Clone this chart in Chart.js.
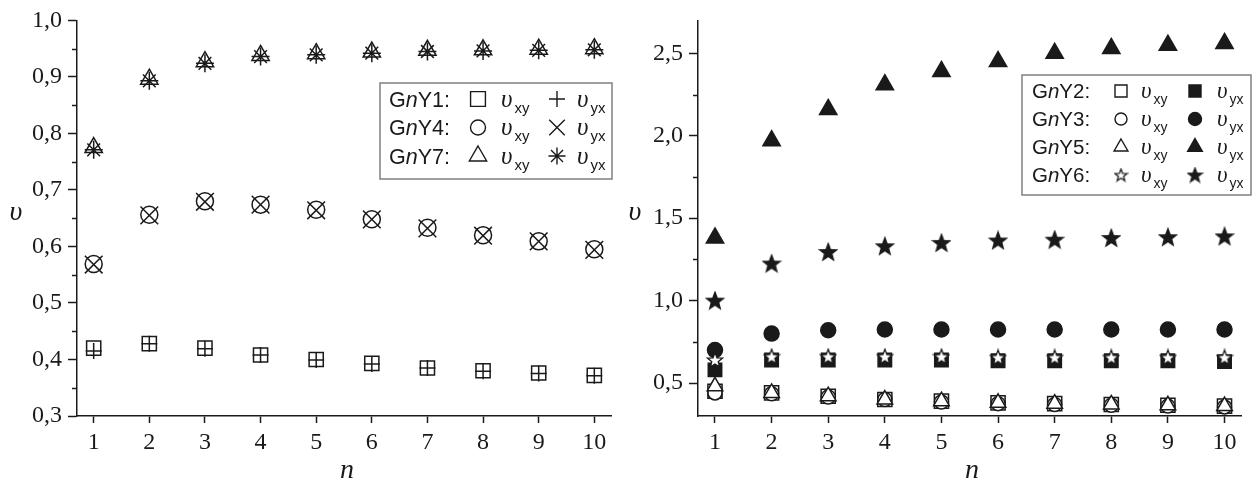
<!DOCTYPE html>
<html>
<head>
<meta charset="utf-8">
<script src="https://cdn.jsdelivr.net/npm/chart.js@4.4.0/dist/chart.umd.min.js"></script>
<style>
  html, body { margin: 0; padding: 0; background: #fff; }
  #wrap { position: relative; width: 1253px; height: 491px; overflow: hidden; }
  canvas { position: absolute; top: 0; }
  #chartLeft { left: 0; }
  #chartRight { left: 625px; }
</style>
</head>
<body>
<div id="wrap">
  <canvas id="chartLeft" width="625" height="491"></canvas>
  <canvas id="chartRight" width="628" height="491"></canvas>
</div>
<script>
// ---- datos ----
const N = [1, 2, 3, 4, 5, 6, 7, 8, 9, 10];

// panel izquierdo
const gny1Xy = [0.420, 0.428, 0.420, 0.408, 0.400, 0.393, 0.385, 0.380, 0.376, 0.372];
const gny1Yx = [0.415, 0.428, 0.419, 0.408, 0.399, 0.392, 0.385, 0.379, 0.375, 0.371];
const gny4Xy = [0.569, 0.656, 0.680, 0.674, 0.665, 0.648, 0.633, 0.620, 0.609, 0.595];
const gny4Yx = [0.568, 0.655, 0.679, 0.674, 0.664, 0.648, 0.632, 0.619, 0.609, 0.594];
const gny7Xy = [0.775, 0.896, 0.927, 0.938, 0.941, 0.944, 0.947, 0.948, 0.949, 0.950];
const gny7Yx = [0.771, 0.893, 0.924, 0.936, 0.939, 0.942, 0.945, 0.946, 0.947, 0.948];

// panel derecho
const gny2Xy = [0.45, 0.44, 0.42, 0.40, 0.39, 0.38, 0.375, 0.37, 0.365, 0.36];
const gny2Yx = [0.58, 0.64, 0.64, 0.64, 0.64, 0.635, 0.635, 0.635, 0.635, 0.63];
const gny3Xy = [0.44, 0.435, 0.415, 0.40, 0.385, 0.375, 0.37, 0.365, 0.36, 0.355];
const gny3Yx = [0.70, 0.80, 0.82, 0.825, 0.825, 0.825, 0.825, 0.825, 0.825, 0.825];
const gny5Xy = [0.48, 0.44, 0.42, 0.40, 0.39, 0.38, 0.375, 0.37, 0.365, 0.36];
const gny5Yx = [1.38, 1.97, 2.16, 2.31, 2.39, 2.45, 2.50, 2.53, 2.55, 2.56];
const gny6Xy = [0.64, 0.66, 0.66, 0.66, 0.66, 0.655, 0.655, 0.655, 0.655, 0.655];
const gny6Yx = [1.00, 1.225, 1.295, 1.33, 1.35, 1.365, 1.37, 1.38, 1.385, 1.39];

// ejes
const leftYTicks = [0.3, 0.4, 0.5, 0.6, 0.7, 0.8, 0.9, 1.0];
const leftYMinor = [0.35, 0.45, 0.55, 0.65, 0.75, 0.85, 0.95];
const rightYTicks = [0.5, 1.0, 1.5, 2.0, 2.5];
const rightYMinor = [0.75, 1.25, 1.75, 2.25];

const INK = '#1a1a1a';
const SERIF = '"Liberation Serif", "Times New Roman", serif';
const SANS = '"Liberation Sans", Arial, sans-serif';
const NONE = 'rgba(0,0,0,0)';

// estrella de cinco puntas como imagen
function starImage(size, fill) {
  const c = document.createElement('canvas');
  c.width = c.height = size;
  const g = c.getContext('2d');
  const cx = size / 2, cy = size / 2 + 0.6, R = size / 2 - 1, r = R * 0.42;
  g.beginPath();
  for (let k = 0; k < 10; k++) {
    const a = -Math.PI / 2 + k * Math.PI / 5;
    const rad = k % 2 ? r : R;
    g.lineTo(cx + rad * Math.cos(a), cy + rad * Math.sin(a));
  }
  g.closePath();
  g.fillStyle = fill; g.fill();
  g.lineWidth = 1.3; g.strokeStyle = INK; g.stroke();
  return c;
}

function series(label, ys, style, radius, fill, order) {
  return {
    label,
    data: N.map((n, i) => ({ x: n, y: ys[i] })),
    pointStyle: style,
    pointRadius: radius,
    pointHoverRadius: radius,
    pointBackgroundColor: fill,
    pointBorderColor: INK,
    pointBorderWidth: 1.5,
    showLine: false,
    clip: false,
    order
  };
}

function axes(yMin, yMax, yTicks, yWidth) {
  const tickFont = { family: SERIF, size: 24 };
  return {
    x: {
      type: 'linear', min: 0.7, max: 10.3,
      afterBuildTicks: s => { s.ticks = N.map(v => ({ value: v })); },
      afterFit: s => { s.height = 75; },
      ticks: { color: INK, font: tickFont, padding: 5, maxRotation: 0, autoSkip: false, callback: v => String(v) },
      grid: { drawOnChartArea: false, tickLength: 7, tickColor: INK, tickWidth: 1.5 },
      border: { color: INK, width: 1.5 }
    },
    y: {
      type: 'linear', min: yMin, max: yMax,
      afterBuildTicks: s => { s.ticks = yTicks.map(v => ({ value: v })); },
      afterFit: s => { s.width = yWidth; },
      ticks: { color: INK, font: tickFont, padding: 6, autoSkip: false, callback: v => v.toFixed(1).replace('.', ',') },
      grid: { drawOnChartArea: false, tickLength: 9, tickColor: INK, tickWidth: 1.5 },
      border: { color: INK, width: 1.5 }
    }
  };
}

function drawSym(ctx, s, x, y) {
  ctx.save();
  ctx.lineWidth = 1.4;
  ctx.strokeStyle = INK;
  ctx.fillStyle = s.fill;
  Chart.helpers.drawPoint(ctx, { pointStyle: s.style, radius: s.radius, rotation: 0, borderWidth: 1.4 }, x, y);
  ctx.restore();
}

function drawUpsilon(ctx, L, x, base, sub) {
  ctx.font = `italic ${L.uSize}px ${SERIF}`;
  ctx.fillText('υ', x, base);
  const w = ctx.measureText('υ').width;
  ctx.font = `${L.subSize}px ${SANS}`;
  ctx.fillText(sub, x + w + 2, base + 6);
}

function drawLegend(ctx, L) {
  ctx.save();
  ctx.fillStyle = '#fff';
  ctx.fillRect(L.x, L.y, L.w, L.h);
  ctx.strokeStyle = '#808080';
  ctx.lineWidth = 1.5;
  ctx.strokeRect(L.x, L.y, L.w, L.h);
  ctx.textAlign = 'left';
  ctx.textBaseline = 'alphabetic';
  L.rows.forEach((row, i) => {
    const cy = L.y0 + i * L.step;
    const base = cy + L.fs * 0.36;
    ctx.fillStyle = INK;
    let tx = L.textX;
    ctx.font = `${L.fs}px ${SANS}`;
    ctx.fillText('G', tx, base); tx += ctx.measureText('G').width;
    ctx.font = `italic ${L.fs}px ${SANS}`;
    ctx.fillText('n', tx, base); tx += ctx.measureText('n').width;
    ctx.font = `${L.fs}px ${SANS}`;
    ctx.fillText('Y' + row.code + ':', tx, base);
    drawSym(ctx, row.a, L.symA, cy);
    ctx.fillStyle = INK;
    drawUpsilon(ctx, L, L.uA, base, 'xy');
    drawSym(ctx, row.b, L.symB, cy);
    ctx.fillStyle = INK;
    drawUpsilon(ctx, L, L.uB, base, 'yx');
  });
  ctx.restore();
}

// marcas menores, títulos de ejes y leyenda
const decorPlugin = {
  id: 'decor',
  afterDraw(chart, args, o) {
    const ctx = chart.ctx, ys = chart.scales.y, area = chart.chartArea;
    ctx.save();
    ctx.strokeStyle = INK;
    ctx.lineWidth = 1.5;
    o.minorY.forEach(v => {
      const py = Math.round(ys.getPixelForValue(v)) + 0.5;
      ctx.beginPath();
      ctx.moveTo(area.left - 5, py);
      ctx.lineTo(area.left, py);
      ctx.stroke();
    });
    ctx.fillStyle = INK;
    ctx.font = `italic 28px ${SERIF}`;
    ctx.textAlign = 'center';
    ctx.textBaseline = 'middle';
    ctx.fillText('υ', o.yTitle[0], o.yTitle[1]);
    ctx.fillText('n', o.xTitle[0], o.xTitle[1]);
    ctx.restore();
    drawLegend(ctx, o.legend);
  }
};

function baseOptions(scales, padding, decor) {
  return {
    responsive: false,
    animation: false,
    events: [],
    layout: { padding },
    scales,
    plugins: { legend: { display: false }, tooltip: { enabled: false }, decor }
  };
}

// ---- panel izquierdo ----
new Chart(document.getElementById('chartLeft'), {
  type: 'scatter',
  plugins: [decorPlugin],
  data: {
    datasets: [
      series('GnY1 υxy', gny1Xy, 'rect', 10, NONE, 1),
      series('GnY1 υyx', gny1Yx, 'cross', 8, NONE, 0),
      series('GnY4 υxy', gny4Xy, 'circle', 8.5, NONE, 1),
      series('GnY4 υyx', gny4Yx, 'crossRot', 12.5, NONE, 0),
      series('GnY7 υxy', gny7Xy, 'triangle', 10, NONE, 1),
      series('GnY7 υyx', gny7Yx, 'star', 9, NONE, 0)
    ]
  },
  options: baseOptions(axes(0.3, 1.0, leftYTicks, 77), { left: 0, top: 15, right: 2, bottom: 0 }, {
    minorY: leftYMinor,
    yTitle: [16, 213],
    xTitle: [347, 471],
    legend: {
      x: 380, y: 83, w: 232, h: 96, fs: 21.5, uSize: 25, subSize: 15,
      y0: 99, step: 28.5, textX: 389, symA: 478, uA: 501, symB: 557, uB: 577,
      rows: [
        { code: '1', a: { style: 'rect', radius: 10.5, fill: NONE }, b: { style: 'cross', radius: 8, fill: NONE } },
        { code: '4', a: { style: 'circle', radius: 7.5, fill: NONE }, b: { style: 'crossRot', radius: 11, fill: NONE } },
        { code: '7', a: { style: 'triangle', radius: 10, fill: NONE }, b: { style: 'star', radius: 8.5, fill: NONE } }
      ]
    }
  })
});

// ---- panel derecho ----
const starOpen = starImage(18, '#fff');
const starFull = starImage(20, INK);
new Chart(document.getElementById('chartRight'), {
  type: 'scatter',
  plugins: [decorPlugin],
  data: {
    datasets: [
      series('GnY2 υxy', gny2Xy, 'rect', 10, '#fff', 5),
      series('GnY2 υyx', gny2Yx, 'rect', 9.5, INK, 2),
      series('GnY3 υxy', gny3Xy, 'circle', 7, '#fff', 4),
      series('GnY3 υyx', gny3Yx, 'circle', 7.5, INK, 2),
      series('GnY5 υxy', gny5Xy, 'triangle', 9, '#fff', 3),
      series('GnY5 υyx', gny5Yx, 'triangle', 10, INK, 2),
      series('GnY6 υxy', gny6Xy, starOpen, 8, '#fff', 1),
      series('GnY6 υyx', gny6Yx, starFull, 9, INK, 2)
    ]
  },
  options: baseOptions(axes(0.3, 2.7, rightYTicks, 73), { left: 0, top: 6, right: 3, bottom: 0 }, {
    minorY: rightYMinor,
    yTitle: [10, 213],
    xTitle: [347, 471],
    legend: {
      x: 397, y: 75, w: 229, h: 120, fs: 20.5, uSize: 23, subSize: 14,
      y0: 91, step: 28, textX: 407, symA: 496, uA: 516, symB: 570, uB: 592,
      rows: [
        { code: '2', a: { style: 'rect', radius: 8.5, fill: '#fff' }, b: { style: 'rect', radius: 8.5, fill: INK } },
        { code: '3', a: { style: 'circle', radius: 6, fill: '#fff' }, b: { style: 'circle', radius: 6.5, fill: INK } },
        { code: '5', a: { style: 'triangle', radius: 8, fill: '#fff' }, b: { style: 'triangle', radius: 8.5, fill: INK } },
        { code: '6', a: { style: starImage(15, '#fff'), radius: 6, fill: '#fff' }, b: { style: starImage(17, INK), radius: 7, fill: INK } }
      ]
    }
  })
});
</script>
</body>
</html>
